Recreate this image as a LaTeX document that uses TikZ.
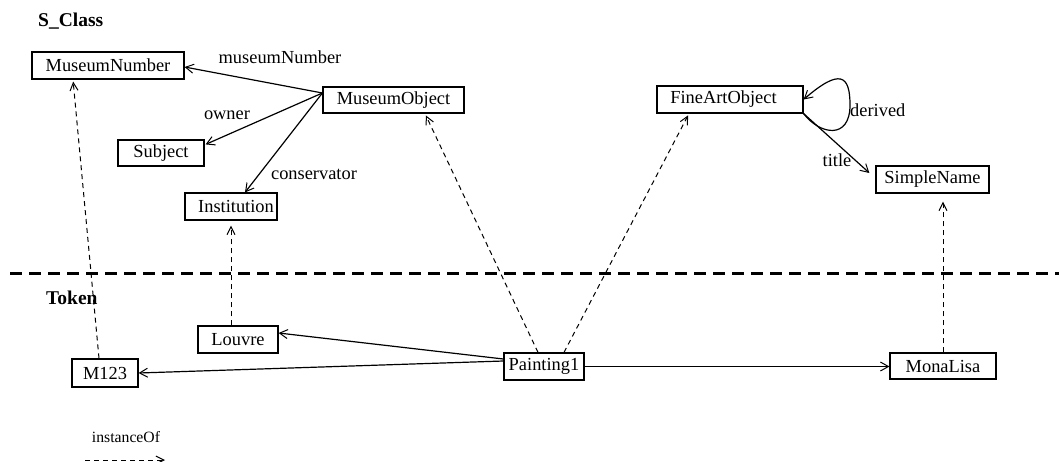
\documentclass[tikz,border=0pt]{standalone}
\usepackage{fontspec}
\setmainfont{Liberation Serif}
\usetikzlibrary{arrows.meta}
\begin{document}
\begin{tikzpicture}[x=1pt,y=-1pt,
  box/.style={draw, line width=1.2pt, inner sep=0pt, minimum height=27pt,
    font=\fontsize{18.4}{20}\selectfont},
  lbl/.style={inner sep=0pt, font=\fontsize{18.4}{20}\selectfont},
  head/.style={inner sep=0pt, font=\bfseries\fontsize{19.5}{22}\selectfont},
  rel/.style={line width=1.2pt, -{Straight Barb[length=8pt,width=9pt,line width=1pt]}},
  instarrow/.style={line width=1pt, dash pattern=on 5pt off 4pt,
    -{Straight Barb[length=8pt,width=8pt,line width=1pt]}, shorten >=2pt},
  layer/.style={line width=3pt, dash pattern=on 12pt off 7pt}]

\useasboundingbox (0,0) rectangle (1059,461);

% layer titles and separator
\node[head, anchor=west] (sclass) at (38,21) {S\_Class};
\node[head, anchor=west] (token) at (46,298) {Token};
\coordinate (sepL) at (10,273);
\coordinate (sepR) at (1065,273);
\draw[layer] (sepL) -- (sepR);

% class layer
\node[box, minimum width=152pt] (mnum) at (108,65.5) {MuseumNumber};
\node[box, minimum width=141pt, minimum height=26pt] (mobj) at (393.5,100) {MuseumObject};
\node[box, minimum width=86pt, minimum height=26pt] (subj) at (161,153) {Subject};
\node[box, minimum width=92pt] (inst) at (231,206.5) {\hspace*{10pt}Institution};
\node[box, minimum width=146pt] (fao) at (730,99.5) {\hspace*{-13pt}FineArtObject};
\node[box, minimum width=113pt] (sname) at (932.5,179.5) {SimpleName};

% token layer
\node[box, minimum width=80pt] (louvre) at (238,339.5) {Louvre};
\node[box, minimum width=66pt, minimum height=28pt] (m123) at (105,373) {M123};
\node[box, minimum width=80pt] (paint) at (544,366.5) {Painting1};
\node[box, minimum width=106pt, minimum height=26pt] (mona) at (943,366) {MonaLisa};

% class properties
\draw[rel] ([yshift=7pt]mobj.west) -- ([yshift=-1.5pt]mnum.east);
\draw[rel] ([yshift=7pt]mobj.west) -- ([yshift=-5pt,xshift=1pt]subj.north east);
\draw[rel] ([yshift=7pt]mobj.west) -- ([xshift=14pt]inst.north);
\node[lbl] (lmn) at (280,57) {museumNumber};
\node[lbl] (lown) at (227,115) {owner};
\node[lbl] (lcons) at (314,174) {conservator};

\draw[rel] (fao.south east) -- ([xshift=-6pt,yshift=6.5pt]sname.west);
\node[lbl] (ltitle) at (837,160) {title};
\draw[rel] (fao.south east) .. controls (820,135) and (850,140) .. (850,105)
  .. controls (850,75) and (840,68) .. (fao.east);
\node[lbl, anchor=west] (lder) at (850,110) {derived};

% token properties
\draw[rel] ([yshift=7.5pt]paint.west) -- ([yshift=6.5pt]louvre.east);
\draw[rel] ([yshift=5.5pt]paint.west) -- (m123.east);
\draw[rel] (paint.east) -- (paint.east -| mona.west);

% instance links
\draw[instarrow] ([xshift=-6pt]m123.north) -- ([xshift=-35pt]mnum.south);
\draw[instarrow, shorten >=5pt] ([xshift=-7pt]louvre.north) -- (inst.south);
\draw[instarrow] ([xshift=-6pt]paint.north) -- ([xshift=31.5pt]mobj.south);
\draw[instarrow] ([xshift=20pt]paint.north) -- ([xshift=-41pt]fao.south);
\draw[instarrow, shorten >=8pt] (mona.north) -- (mona.north |- sname.south);

% legend
\node[inner sep=0pt, font=\fontsize{15.7}{18}\selectfont] (legtxt) at (126,437) {instanceOf};
\coordinate (legA) at (85,460);
\coordinate (legB) at (165,460);
\draw[instarrow, shorten >=0pt] (legA) -- (legB);
\end{tikzpicture}
\end{document}
